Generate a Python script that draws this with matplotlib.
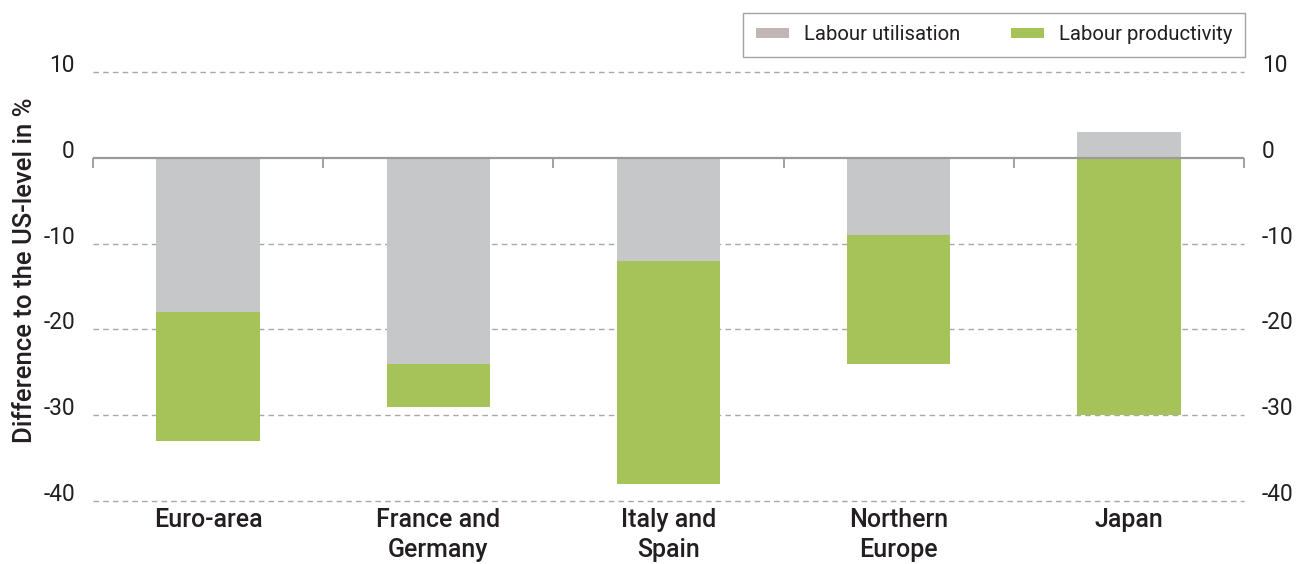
import numpy as np
import matplotlib
matplotlib.use("Agg")
import matplotlib.pyplot as plt
from matplotlib.patches import Patch

plt.rcParams['font.family'] = ['Roboto', 'DejaVu Sans']
plt.rcParams['axes.unicode_minus'] = False

categories = ["Euro-area", "France and\nGermany", "Italy and\nSpain", "Northern\nEurope", "Japan"]
labour_utilisation = [-18, -24, -12, -9, 3]
labour_productivity = [-15, -5, -26, -15, -30]
y_ticks = [10, 0, -10, -20, -30, -40]
series_names = ["Labour utilisation", "Labour productivity"]

GREY = "#c6c7c9"
GREEN = "#a6c35a"
LEGEND_GREY = "#c0b6b3"
TEXT = "#231f20"
AXIS = "#9a9a9a"

W, H = 1312, 564
fig = plt.figure(figsize=(W / 100, H / 100), dpi=100)
ax_h_px = 429
ax = fig.add_axes([93 / W, 63 / H, 1151 / W, ax_h_px / H])

x = np.arange(len(categories))
util = np.array(labour_utilisation, dtype=float)
prod = np.array(labour_productivity, dtype=float)

ax.bar(x, util, width=0.45, color=GREY, zorder=3)
ax.bar(x, prod, bottom=np.minimum(util, 0), width=0.45, color=GREEN, zorder=3)

ax.set_xlim(-0.5, len(categories) - 0.5)
ax.set_ylim(min(y_ticks), max(y_ticks))

for t in y_ticks:
    if t != 0:
        ax.axhline(t, color="#a8a8a8", lw=1.0, ls=(0, (4, 3)), zorder=1, clip_on=False)

for s in ax.spines.values():
    s.set_visible(False)

ax.set_yticks(y_ticks)
ax.set_yticklabels([str(t) for t in y_ticks])
ax.tick_params(axis='y', length=0, labelleft=True, labelright=True, labelsize=16.3,
               labelcolor=TEXT, pad=13)
for tk in ax.yaxis.get_major_ticks():
    tk.label1.set_va('baseline')
    tk.label2.set_va('baseline')

ax.set_xticks(x)
ax.set_xticklabels(categories, fontsize=18, color=TEXT, fontweight='medium',
                   linespacing=1.3, va='top')
ax.tick_params(axis='x', length=0, pad=5)

# zero line with category boundary tick marks
units_per_px = (max(y_ticks) - min(y_ticks)) / ax_h_px
ax.axhline(0, color=AXIS, lw=1.6, zorder=4)
ax.vlines(np.arange(len(categories) + 1) - 0.5, -10 * units_per_px, 0,
          color=AXIS, lw=1.3, zorder=4, clip_on=False)

ax.set_ylabel("Difference to the US-level in %", fontsize=18.5, color=TEXT,
              fontweight='medium')
ax.yaxis.set_label_coords(-0.049, 0.537)

handles = [Patch(facecolor=LEGEND_GREY), Patch(facecolor=GREEN)]
leg = ax.legend(handles, series_names, ncol=2, loc='lower right',
                bbox_to_anchor=(1.001, 1 + 15.3 / ax_h_px), frameon=True, fancybox=False,
                fontsize=14.6, handlelength=1.65, handleheight=0.38,
                columnspacing=2.5, handletextpad=0.72, borderpad=0.62,
                borderaxespad=0, labelcolor=TEXT)
leg.get_frame().set_edgecolor("#8c8c8c")
leg.get_frame().set_linewidth(1.0)

fig.savefig("out.png", dpi=100)
